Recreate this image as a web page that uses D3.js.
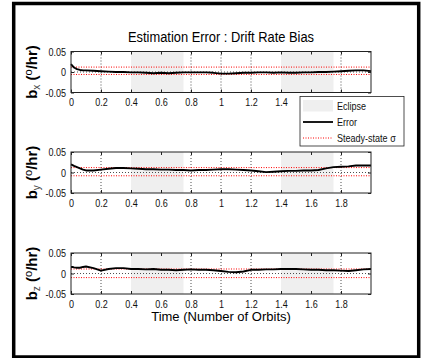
<!DOCTYPE html>
<html>
<head>
<meta charset="utf-8">
<script src="https://cdn.jsdelivr.net/npm/d3@7"></script>
<style>
  body { margin: 0; background: #fff; }
  svg { display: block; font-family: 'Liberation Sans', Arial, sans-serif; }
  .tick text { font-size: 11px; fill: #111; }
</style>
</head>
<body>
<div id="app"></div>
<script>
// orbits
const time = [0, 0.01, 0.02, 0.04, 0.06, 0.08,
    0.1, 0.15, 0.2, 0.25, 0.3, 0.35, 0.4, 0.45, 0.5, 0.55, 0.6, 0.65, 0.7, 0.75,
    0.8, 0.85, 0.9, 0.95, 1.0, 1.05, 1.1, 1.15, 1.2, 1.25, 1.3, 1.35, 1.4, 1.45,
    1.5, 1.55, 1.6, 1.65, 1.7, 1.75, 1.8, 1.85, 1.9, 1.95, 2.0]

// deg/hr
const bx = [0.019, 0.015, 0.011, 0.007, 0.005, 0.004,
    0.004, 0.003, 0.002, 0.001, 0.000, 0.000, -0.001, -0.001, -0.002, -0.003, -0.002, -0.003, -0.002, -0.001,
    -0.001, -0.001, -0.001, -0.002, -0.004, -0.004, -0.003, -0.002, -0.002, -0.001, -0.001, -0.002, -0.001, -0.002,
    -0.002, -0.001, -0.001, 0.000, 0.000, 0.001, 0.002, 0.003, 0.004, 0.004, 0.002]
const by = [0.020, 0.018, 0.016, 0.013, 0.010, 0.007,
    0.005, 0.005, 0.007, 0.009, 0.011, 0.011, 0.010, 0.009, 0.008, 0.008, 0.007, 0.007, 0.006, 0.006,
    0.005, 0.006, 0.006, 0.007, 0.008, 0.008, 0.007, 0.006, 0.005, 0.003, 0.001, 0.002, 0.003, 0.004,
    0.004, 0.005, 0.005, 0.006, 0.010, 0.013, 0.014, 0.015, 0.017, 0.017, 0.017]
const bz = [0.016, 0.016, 0.015, 0.014, 0.014, 0.016,
    0.017, 0.013, 0.007, 0.011, 0.013, 0.013, 0.011, 0.011, 0.010, 0.011, 0.009, 0.009, 0.008, 0.009,
    0.010, 0.009, 0.009, 0.008, 0.006, 0.004, 0.003, 0.005, 0.009, 0.009, 0.010, 0.010, 0.011, 0.011,
    0.011, 0.010, 0.009, 0.009, 0.008, 0.008, 0.007, 0.006, 0.008, 0.010, 0.011]

const axisNames = ['x', 'y', 'z']
const sigmaUpper = [0.012, 0.012, 0.011]
const sigmaLower = [-0.006, -0.008, -0.010]
const eclipseStart = [0.4, 1.4]
const eclipseEnd = [0.75, 1.75]
const xTicks = [0, 0.2, 0.4, 0.6, 0.8, 1, 1.2, 1.4, 1.6, 1.8]
const yTicks = [-0.05, 0, 0.05]
const titleText = 'Estimation Error : Drift Rate Bias'
const xLabelText = 'Time (Number of Orbits)'
const legendLabels = ['Eclipse', 'Error', 'Steady-state σ']

const W = 422, H = 358
const panelTops = [51.5, 152, 253]
const panelH = 41
const legendBox = {x: 300, y: 96.5, w: 104, h: 49.5}

// squeeze text horizontally to mimic the narrow font of the original
const narrow = (sel, k = 0.82) => sel.each(function () {
    const n = this.getComputedTextLength()
    if (n > 0) d3.select(this).attr('textLength', n * k).attr('lengthAdjust', 'spacingAndGlyphs')
})

const svg = d3.create('svg')
    .attr('width', W)
    .attr('height', H)
    .attr('viewBox', [0, 0, W, H])

d3.select('#app').append(() => svg.node())

svg.append('rect')
    .attr('width', W).attr('height', H)
    .attr('fill', '#fff')

const x = d3.scaleLinear().domain([0, 2]).range([71, 371])

const panels = [bx, by, bz].map((values, i) => ({
    values,
    name: axisNames[i],
    up: sigmaUpper[i],
    lo: sigmaLower[i],
    top: panelTops[i]
}))

panels.forEach((p, pi) => {
    const y = d3.scaleLinear().domain([-0.05, 0.05]).range([p.top + panelH, p.top])
    const g = svg.append('g')

    // eclipse bands
    g.selectAll('rect.eclipse')
        .data(d3.zip(eclipseStart, eclipseEnd))
        .join('rect')
        .attr('class', 'eclipse')
        .attr('x', d => x(d[0]))
        .attr('width', d => x(d[1]) - x(d[0]))
        .attr('y', y(0.05))
        .attr('height', y(-0.05) - y(0.05))
        .attr('fill', '#efefef')

    // grid (hidden under the eclipse patches)
    g.selectAll('line.vgrid')
        .data(xTicks.filter(d => d > 0 && !(d >= 0.4 && d <= 0.75) && !(d >= 1.4 && d <= 1.75)))
        .join('line')
        .attr('x1', d => x(d)).attr('x2', d => x(d))
        .attr('y1', y(0.05)).attr('y2', y(-0.05))
        .attr('stroke', '#222')
        .attr('stroke-width', 0.8)
        .attr('stroke-dasharray', '1,2')
    g.append('line')
        .attr('x1', x(0)).attr('x2', x(2))
        .attr('y1', y(0)).attr('y2', y(0))
        .attr('stroke', '#222')
        .attr('stroke-width', 0.8)
        .attr('stroke-dasharray', '1,2')

    // steady-state sigma
    g.selectAll('line.sigma')
        .data([p.up, p.lo])
        .join('line')
        .attr('x1', x(0)).attr('x2', x(2))
        .attr('y1', d => y(d)).attr('y2', d => y(d))
        .attr('stroke', '#ff0000')
        .attr('stroke-width', 1)
        .attr('stroke-dasharray', '1,1.5')

    // error
    const line = d3.line()
        .x((d, i) => x(time[i]))
        .y(d => y(d))
    g.append('path')
        .attr('d', line(p.values))
        .attr('fill', 'none')
        .attr('stroke', '#000')
        .attr('stroke-width', 1.9)
        .attr('stroke-linejoin', 'round')

    // axes; on the first panel the legend hides the last tick labels
    const shownX = pi === 0 ? xTicks.filter(d => x(d) < legendBox.x - 10) : xTicks
    g.append('g')
        .attr('transform', `translate(0,${p.top + panelH})`)
        .call(d3.axisBottom(x).tickValues(xTicks).tickSize(-3).tickPadding(6)
            .tickFormat(d => shownX.includes(d) ? String(d) : ''))
    g.append('g')
        .attr('transform', `translate(${x(0)},0)`)
        .call(d3.axisLeft(y).tickValues(yTicks).tickSize(-3).tickPadding(5).tickFormat(d => String(d)))
    g.append('g')
        .attr('transform', `translate(0,${p.top})`)
        .call(d3.axisTop(x).tickValues(xTicks).tickSize(-3).tickFormat(''))
    g.append('g')
        .attr('transform', `translate(${x(2)},0)`)
        .call(d3.axisRight(y).tickValues(yTicks).tickSize(-3).tickFormat(''))
    g.selectAll('.domain').remove()
    g.selectAll('.tick text').filter(function () { return this.textContent === '' }).remove()
    g.selectAll('.tick line').attr('stroke', '#222')
    narrow(g.selectAll('.tick text'))

    g.append('rect')
        .attr('x', x(0)).attr('y', p.top)
        .attr('width', x(2) - x(0)).attr('height', panelH)
        .attr('fill', 'none')
        .attr('stroke', '#222')
        .attr('stroke-width', 1)

    // y label
    const lab = g.append('text')
        .attr('transform', `translate(37,${p.top + panelH / 2}) rotate(-90)`)
        .attr('text-anchor', 'middle')
        .attr('font-size', 15)
        .attr('font-weight', 'bold')
    lab.append('tspan').text('b')
    lab.append('tspan').attr('dy', 3).attr('font-size', 10).attr('font-weight', 'normal').attr('fill', '#444').text(p.name)
    lab.append('tspan').attr('dy', -3).text(' (')
    lab.append('tspan').attr('dy', -5).attr('font-size', 11).attr('font-weight', 'normal').text('o')
    lab.append('tspan').attr('dy', 5).text('/hr)')
})

// title and x label
svg.append('text')
    .attr('x', 221).attr('y', 42)
    .attr('text-anchor', 'middle')
    .attr('font-size', 14)
    .text(titleText)
    .call(narrow, 0.92)

svg.append('text')
    .attr('x', 221).attr('y', 321)
    .attr('text-anchor', 'middle')
    .attr('font-size', 13)
    .text(xLabelText)

// legend
const legend = svg.append('g').attr('transform', `translate(${legendBox.x},${legendBox.y})`)
legend.append('rect')
    .attr('width', legendBox.w).attr('height', legendBox.h)
    .attr('fill', '#fff')
    .attr('stroke', '#222')
    .attr('stroke-width', 0.8)
const item = legend.selectAll('g.item')
    .data(legendLabels)
    .join('g')
    .attr('transform', (d, i) => `translate(0,${9.5 + i * 16})`)
item.filter((d, i) => i === 0).append('rect')
    .attr('x', 3).attr('y', -6).attr('width', 30).attr('height', 11.5)
    .attr('fill', '#efefef')
item.filter((d, i) => i === 1).append('line')
    .attr('x1', 3).attr('x2', 33).attr('y1', 0).attr('y2', 0)
    .attr('stroke', '#000').attr('stroke-width', 1.8)
item.filter((d, i) => i === 2).append('line')
    .attr('x1', 3).attr('x2', 33).attr('y1', 0).attr('y2', 0)
    .attr('stroke', '#ff0000').attr('stroke-width', 1).attr('stroke-dasharray', '1,1.5')
item.append('text')
    .attr('x', 37).attr('y', 4)
    .attr('font-size', 11)
    .attr('fill', '#111')
    .text(d => d)
    .call(narrow)

// outer frame
svg.append('rect')
    .attr('x', 13.7).attr('y', 3.5)
    .attr('width', 405).attr('height', 353.5)
    .attr('fill', 'none')
    .attr('stroke', '#000')
    .attr('stroke-width', 3.5)
</script>
</body>
</html>
